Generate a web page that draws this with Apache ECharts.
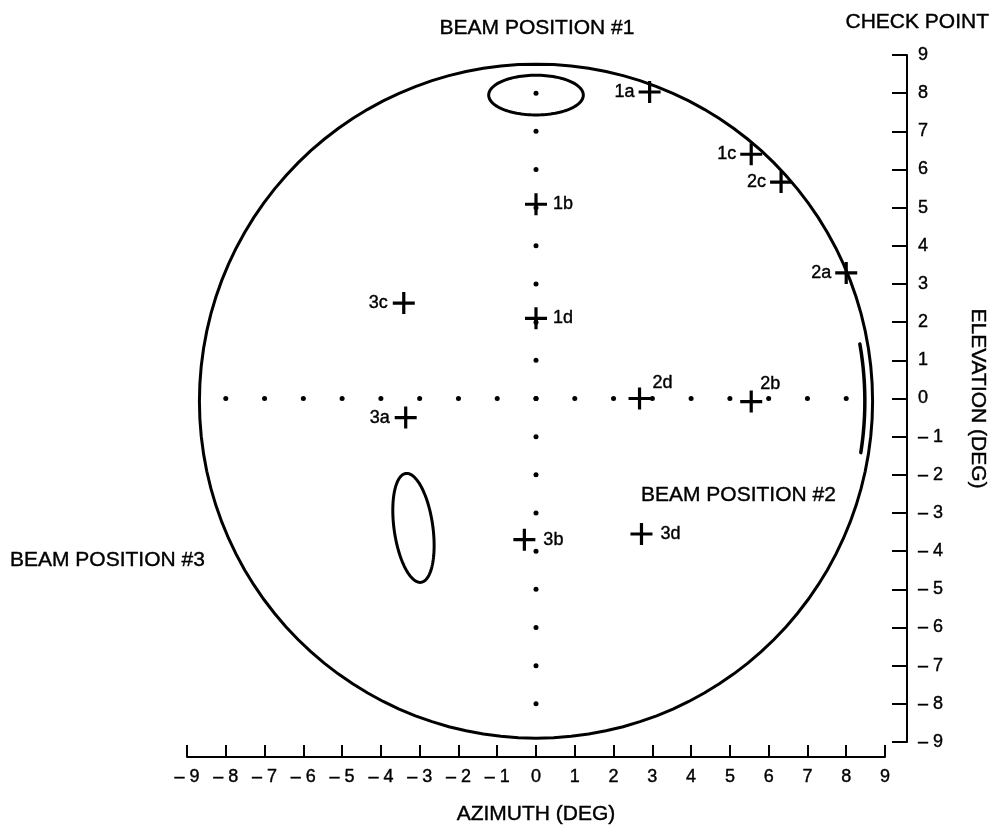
<!DOCTYPE html>
<html><head><meta charset="utf-8">
<script src="https://cdn.jsdelivr.net/npm/echarts@6/dist/echarts.min.js"></script>
<style>html,body{margin:0;padding:0;background:#fff}#c{width:993px;height:830px}</style>
</head><body><div id="c"></div>
<script>
// ---- data ----
const axisMin = -9, axisMax = 9, axisStep = 1;
const centerColumnElevation = [8, 7, 6, 5, 4, 3, 2, 1, 0, -1, -2, -3, -4, -5, -6, -7, -8];
const centerRowAzimuth = [-8, -7, -6, -5, -4, -3, -2, -1, 0, 1, 2, 3, 4, 5, 6, 7, 8];
const checkNames = ['1a', '1b', '1c', '1d', '2a', '2b', '2c', '2d', '3a', '3b', '3c', '3d'];
const checkAzimuth = [2.93, 0.0, 5.55, 0.0, 8.0, 5.55, 6.32, 2.67, -3.36, -0.3, -3.41, 2.72];
const checkElevation = [8.03, 5.09, 6.4, 2.1, 3.29, -0.08, 5.67, 0.0, -0.5, -3.7, 2.5, -3.55];
// ellipse outlines: [centerAz, centerEl, radiusAz, radiusEl, tiltDeg]
const scanCircle = [0.0, -0.07, 8.68, 8.83, 0];
const beam1Contour = [0.0, 7.95, 1.22, 0.52, 0];
const beam3Contour = [-3.16, -3.39, 0.5, 1.44, 8];
// arc: [centerAz, centerEl, radiusAz, radiusEl, startDeg, endDeg]
const beam2Contour = [0.0, -0.07, 8.48, 8.62, -9, 10];

// ---- styles ----
const INK = '#000';
const FONT = "'Liberation Sans', Arial, Helvetica, sans-serif";
const FS = 18, FS_BIG = 21;
const labelSide = {
  '1a': {position: 'left', distance: 4},
  '1c': {position: 'left', distance: 4},
  '2c': {position: 'left', distance: 4},
  '2a': {position: 'left', distance: 4},
  '3c': {position: 'left', distance: 5},
  '3a': {position: 'left', distance: 5},
  '1b': {position: 'right', distance: 6},
  '1d': {position: 'right', distance: 6},
  '3b': {position: 'right', distance: 8},
  '3d': {position: 'right', distance: 8},
  '2d': {position: 'right', distance: 2, offset: [0, -15]},
  '2b': {position: 'right', distance: -2, offset: [0, -18]}
};

const tickFmt = v => v < 0 ? '\u2013 ' + (-v) : String(v);
const CROSS = 'path://M9.4,0h3.2v9.4h9.4v3.2h-9.4v9.4h-3.2v-9.4h-9.4v-3.2h9.4z';

function ellipseItem(params, api) {
  const c = api.coord([api.value(0), api.value(1)]);
  const s = api.size([api.value(2), api.value(3)]);
  const t = api.value(4) * Math.PI / 180;
  const pts = [];
  for (let i = 0; i < 120; i++) {
    const a = i / 120 * Math.PI * 2;
    const ex = s[0] * Math.cos(a), ey = s[1] * Math.sin(a);
    pts.push([c[0] + ex * Math.cos(t) - ey * Math.sin(t), c[1] - (ex * Math.sin(t) + ey * Math.cos(t))]);
  }
  return {type: 'polygon', shape: {points: pts}, style: {fill: 'none', stroke: INK, lineWidth: 3}};
}
function arcItem(params, api) {
  const c = api.coord([api.value(0), api.value(1)]);
  const s = api.size([api.value(2), api.value(3)]);
  const a0 = api.value(4) * Math.PI / 180, a1 = api.value(5) * Math.PI / 180;
  const pts = [];
  for (let i = 0; i <= 40; i++) {
    const a = a0 + (a1 - a0) * i / 40;
    pts.push([c[0] + s[0] * Math.cos(a), c[1] - s[1] * Math.sin(a)]);
  }
  return {type: 'polyline', shape: {points: pts}, style: {fill: 'none', stroke: INK, lineWidth: 3.5, lineCap: 'round'}};
}

const chart = echarts.init(document.getElementById('c'), null, {renderer: 'canvas'});
const txt = {color: INK, fontFamily: FONT, fontSize: FS, textBorderColor: INK, textBorderWidth: 0.4};
const bigTxt = Object.assign({}, txt, {fontSize: FS_BIG});
const gtxt = (text, x, y, align) => ({type: 'text', x: x, y: y, style: {text: text, align: align, verticalAlign: 'middle', fill: INK, stroke: INK, lineWidth: 0.4, font: FS_BIG + 'px ' + FONT}});
chart.setOption({
  animation: false,
  backgroundColor: '#fff',
  grid: {left: 187, right: 108, top: 55, bottom: 88, containLabel: false, outerBoundsMode: 'none'},
  xAxis: {
    type: 'value', min: axisMin, max: axisMax, interval: axisStep, position: 'bottom', offset: 15,
    axisLine: {show: true, onZero: false, lineStyle: {color: INK, width: 2}},
    axisTick: {show: true, inside: true, length: 12, lineStyle: {color: INK, width: 2}},
    axisLabel: Object.assign({formatter: tickFmt, margin: 11}, txt),
    splitLine: {show: false},
    name: 'AZIMUTH (DEG)', nameLocation: 'middle', nameGap: 47,
    nameTextStyle: bigTxt
  },
  yAxis: {
    type: 'value', min: axisMin, max: axisMax, interval: axisStep, position: 'right', offset: 22,
    axisLine: {show: true, onZero: false, lineStyle: {color: INK, width: 2}},
    axisTick: {show: true, inside: true, length: 15, lineStyle: {color: INK, width: 2}},
    axisLabel: Object.assign({formatter: tickFmt, margin: 11}, txt),
    splitLine: {show: false},
    name: 'ELEVATION (DEG)', nameLocation: 'middle', nameRotate: -90, nameGap: 60,
    nameTextStyle: bigTxt
  },
  graphic: [
    gtxt('BEAM POSITION #1', 537, 28, 'center'),
    gtxt('CHECK POINT', 989, 22, 'right'),
    gtxt('BEAM POSITION #2', 641, 495, 'left'),
    gtxt('BEAM POSITION #3', 10, 560, 'left')
  ],
  series: [
    {type: 'custom', name: 'outlines', clip: false, renderItem: ellipseItem, data: [scanCircle, beam1Contour, beam3Contour], z: 2},
    {type: 'custom', name: 'beam2', clip: false, renderItem: arcItem, data: [beam2Contour], z: 2},
    {type: 'scatter', name: 'column', symbol: 'circle', symbolSize: 5, itemStyle: {color: INK, opacity: 1},
      data: centerColumnElevation.map(e => [0, e]), z: 3, silent: true},
    {type: 'scatter', name: 'row', symbol: 'circle', symbolSize: 5, itemStyle: {color: INK, opacity: 1},
      data: centerRowAzimuth.map(a => [a, 0]), z: 3, silent: true},
    {type: 'scatter', name: 'check points', symbol: CROSS, symbolSize: 22, itemStyle: {color: INK, opacity: 1}, z: 4,
      data: checkNames.map((n, i) => ({
        value: [checkAzimuth[i], checkElevation[i]],
        label: Object.assign({show: true, formatter: n}, txt, labelSide[n])
      }))}
  ]
});
</script></body></html>
